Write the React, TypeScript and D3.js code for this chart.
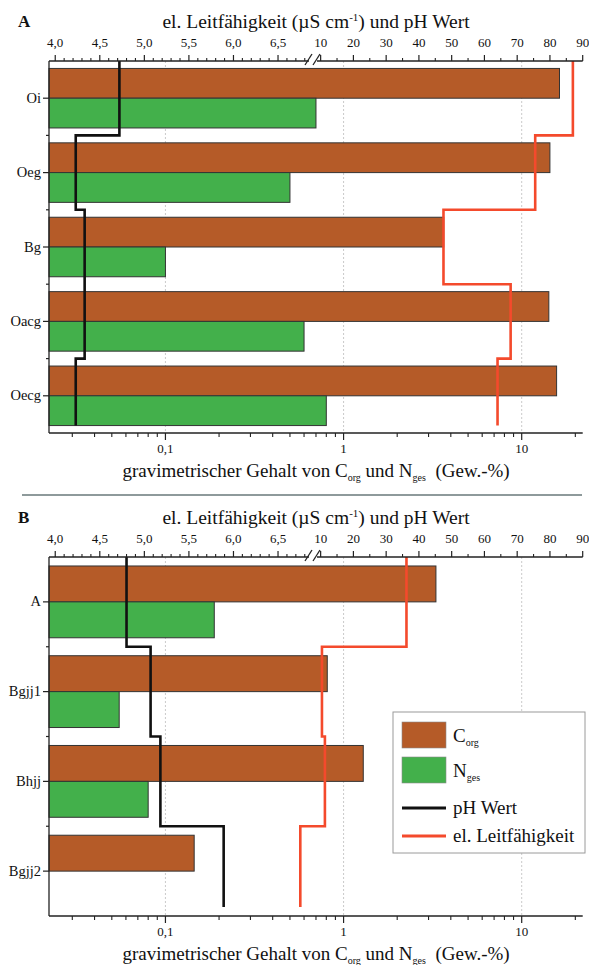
import * as d3 from "d3";

const FONT = "'Liberation Serif', 'Times New Roman', serif";
const C_CORG = "#b55b28";
const C_NGES = "#43b04b";
const C_PH = "#111111";
const C_EC = "#f44a2c";
const AXIS = "#222222";

// Profil A
const horizonsA = ["Oi", "Oeg", "Bg", "Oacg", "Oecg"];
const corgA = [16.3, 14.4, 3.65, 14.2, 15.7];
const ngesA = [0.7, 0.5, 0.1, 0.6, 0.8];
const phA = [4.72, 4.23, 4.33, 4.33, 4.23];
const ecA = [87, 75.5, 47.5, 68, 64];

// Profil B
const horizonsB = ["A", "Bgjj1", "Bhjj", "Bgjj2"];
const corgB = [3.3, 0.81, 1.29, 0.145];
const ngesB: (number | null)[] = [0.188, 0.055, 0.08, null];
const phB = [4.8, 5.07, 5.18, 5.89];
const ecB = [36.2, 10.4, 11.3, 6.75];

// axis ticks
const phTicks = [4.0, 4.5, 5.0, 5.5, 6.0, 6.5];
const phTickLabels = ["4,0", "4,5", "5,0", "5,5", "6,0", "6,5"];
const phMinor = [4.1, 4.2, 4.3, 4.4, 4.6, 4.7, 4.8, 4.9, 5.1, 5.2, 5.3, 5.4, 5.6, 5.7, 5.8, 5.9, 6.1, 6.2, 6.3, 6.4, 6.6, 6.7, 6.8];
const ecTicks = [10, 20, 30, 40, 50, 60, 70, 80, 90];
const ecMinor = [15, 25, 35, 45, 55, 65, 75, 85];
const logTicks = [0.1, 1, 10];
const logTickLabels = ["0,1", "1", "10"];
const logMinor = [0.03, 0.04, 0.05, 0.06, 0.07, 0.08, 0.09, 0.2, 0.3, 0.4, 0.5, 0.6, 0.7, 0.8, 0.9, 2, 3, 4, 5, 6, 7, 8, 9, 20];

const W = 589;
const H = 965;
const X0 = 49;
const X1 = 582.7;

const xLog = d3.scaleLog().domain([0.0222, 22]).range([X0, X1]);
// broken top axis: pH part | break | conductivity part
const xTop = d3.scaleLinear().domain([3.93, 6.87, 9.65, 90]).range([X0, 311, 319.5, X1]);

function Panel({
  letter, cats, corg, nges, ph, ec, top, bottom,
}: {
  letter: string; cats: string[]; corg: number[]; nges: (number | null)[];
  ph: number[]; ec: number[]; top: number; bottom: number;
}) {
  const y = d3.scaleBand<string>().domain(cats).range([top, bottom]).paddingInner(0.2).paddingOuter(0.1);
  const sub = d3.scaleBand<string>().domain(["c", "n"]).range([0, y.bandwidth()]);
  const step = y.step();
  const lastBottom = (y(cats[cats.length - 1]) as number) + y.bandwidth();
  const line = d3.line();

  const stepPts = (vals: number[]) => {
    const pts: [number, number][] = [];
    vals.forEach((v, i) => {
      const y0 = top + i * step;
      const y1 = i === vals.length - 1 ? lastBottom : top + (i + 1) * step;
      pts.push([xTop(v), y0], [xTop(v), y1]);
    });
    return line(pts) || "";
  };

  return (
    <g>
      <text x={18} y={top - 34} fontSize={17} fontWeight="bold">{letter}</text>
      <text x={316} y={top - 33} fontSize={19.5} textAnchor="middle">
        el. Leitfähigkeit (µS cm<tspan dy={-7} fontSize={11}>-1</tspan><tspan dy={7}>) und pH Wert</tspan>
      </text>

      {/* gridlines */}
      {logTicks.map((t) => (
        <line key={"g" + t} x1={xLog(t)} x2={xLog(t)} y1={top} y2={bottom} stroke="#bdbdbd" strokeWidth={0.8} strokeDasharray="2,2" />
      ))}

      {/* bars */}
      {cats.map((c, i) => (
        <g key={c}>
          <rect x={X0} y={(y(c) as number) + (sub("c") as number)} width={xLog(corg[i]) - X0} height={sub.bandwidth()}
            fill={C_CORG} stroke="#333" strokeWidth={1} />
          {nges[i] != null && (
            <rect x={X0} y={(y(c) as number) + (sub("n") as number)} width={xLog(nges[i] as number) - X0} height={sub.bandwidth()}
              fill={C_NGES} stroke="#333" strokeWidth={1} />
          )}
        </g>
      ))}

      <path d={stepPts(ec)} fill="none" stroke={C_EC} strokeWidth={2.6} />
      <path d={stepPts(ph)} fill="none" stroke={C_PH} strokeWidth={2.6} />

      {/* left axis */}
      <line x1={X0} x2={X0} y1={top} y2={bottom} stroke={AXIS} strokeWidth={1.3} />
      {cats.map((c) => {
        const cy = (y(c) as number) + y.bandwidth() / 2;
        return (
          <g key={"l" + c}>
            <line x1={X0 - 6} x2={X0} y1={cy} y2={cy} stroke={AXIS} strokeWidth={1.2} />
            <text x={X0 - 8} y={cy + 4.5} fontSize={14.5} textAnchor="end">{c}</text>
          </g>
        );
      })}
      {cats.slice(1).map((c, i) => (
        <line key={"lm" + c} x1={X0 - 3} x2={X0} y1={top + (i + 1) * step} y2={top + (i + 1) * step} stroke={AXIS} strokeWidth={1.2} />
      ))}

      {/* bottom log axis */}
      <line x1={X0} x2={X1} y1={bottom} y2={bottom} stroke={AXIS} strokeWidth={1.3} />
      {logTicks.map((t, i) => (
        <g key={"b" + t}>
          <line x1={xLog(t)} x2={xLog(t)} y1={bottom} y2={bottom + 7} stroke={AXIS} strokeWidth={1.2} />
          <text x={xLog(t)} y={bottom + 20} fontSize={13} textAnchor="middle">{logTickLabels[i]}</text>
        </g>
      ))}
      {logMinor.map((t) => (
        <line key={"bm" + t} x1={xLog(t)} x2={xLog(t)} y1={bottom} y2={bottom + 4} stroke={AXIS} strokeWidth={1.1} />
      ))}
      <text x={316} y={bottom + 44} fontSize={19} textAnchor="middle">
        gravimetrischer Gehalt von C<tspan dy={4} fontSize={10}>org</tspan><tspan dy={-4}> und N</tspan>
        <tspan dy={4} fontSize={10}>ges</tspan><tspan dy={-4}>{"\u00a0 (Gew.-%)"}</tspan>
      </text>

      {/* top broken axis */}
      <line x1={X0} x2={309} y1={top} y2={top} stroke={AXIS} strokeWidth={1.3} />
      <line x1={317} x2={X1} y1={top} y2={top} stroke={AXIS} strokeWidth={1.3} />
      <line x1={305} x2={312} y1={top + 4} y2={top - 7} stroke={AXIS} strokeWidth={1.3} />
      <line x1={313} x2={320} y1={top + 4} y2={top - 7} stroke={AXIS} strokeWidth={1.3} />
      {phTicks.map((t, i) => (
        <g key={"p" + t}>
          <line x1={xTop(t)} x2={xTop(t)} y1={top} y2={top - 6} stroke={AXIS} strokeWidth={1.2} />
          <text x={xTop(t)} y={top - 14} fontSize={13} textAnchor="middle">{phTickLabels[i]}</text>
        </g>
      ))}
      {phMinor.map((t) => (
        <line key={"pm" + t} x1={xTop(t)} x2={xTop(t)} y1={top} y2={top - 3} stroke={AXIS} strokeWidth={1.1} />
      ))}
      {ecTicks.map((t) => (
        <g key={"e" + t}>
          <line x1={xTop(t)} x2={xTop(t)} y1={top} y2={top - 6} stroke={AXIS} strokeWidth={1.2} />
          <text x={xTop(t)} y={top - 14} fontSize={13} textAnchor="middle">{t}</text>
        </g>
      ))}
      {ecMinor.map((t) => (
        <line key={"em" + t} x1={xTop(t)} x2={xTop(t)} y1={top} y2={top - 3} stroke={AXIS} strokeWidth={1.1} />
      ))}
    </g>
  );
}

function Legend() {
  const x = 393, yTop = 712;
  return (
    <g>
      <rect x={x} y={yTop} width={192} height={141} fill="#fff" stroke="#9a9a9a" strokeWidth={1} />
      <rect x={402} y={722} width={44} height={26} fill={C_CORG} stroke="#8a8a8a" strokeWidth={0.6} />
      <rect x={402} y={757} width={44} height={26} fill={C_NGES} stroke="#8a8a8a" strokeWidth={0.6} />
      <line x1={402} x2={446} y1={808} y2={808} stroke={C_PH} strokeWidth={3} />
      <line x1={402} x2={446} y1={836} y2={836} stroke={C_EC} strokeWidth={3} />
      <text x={453} y={742} fontSize={19}>C<tspan dy={4} fontSize={10}>org</tspan></text>
      <text x={453} y={777} fontSize={19}>N<tspan dy={4} fontSize={10}>ges</tspan></text>
      <text x={453} y={814} fontSize={19}>pH Wert</text>
      <text x={453} y={842} fontSize={19}>el. Leitfähigkeit</text>
    </g>
  );
}

export default function App() {
  return (
    <svg width={W} height={H} style={{ position: "absolute", left: 0, top: 0, background: "#fff" }}
      fontFamily={FONT} fill="#111">
      <Panel letter="A" cats={horizonsA} corg={corgA} nges={ngesA} ph={phA} ec={ecA} top={61} bottom={433} />
      <line x1={22} x2={582} y1={495} y2={495} stroke="#8e9a9b" strokeWidth={2} />
      <Panel letter="B" cats={horizonsB} corg={corgB} nges={ngesB} ph={phB} ec={ecB} top={557} bottom={916} />
      <Legend />
    </svg>
  );
}
